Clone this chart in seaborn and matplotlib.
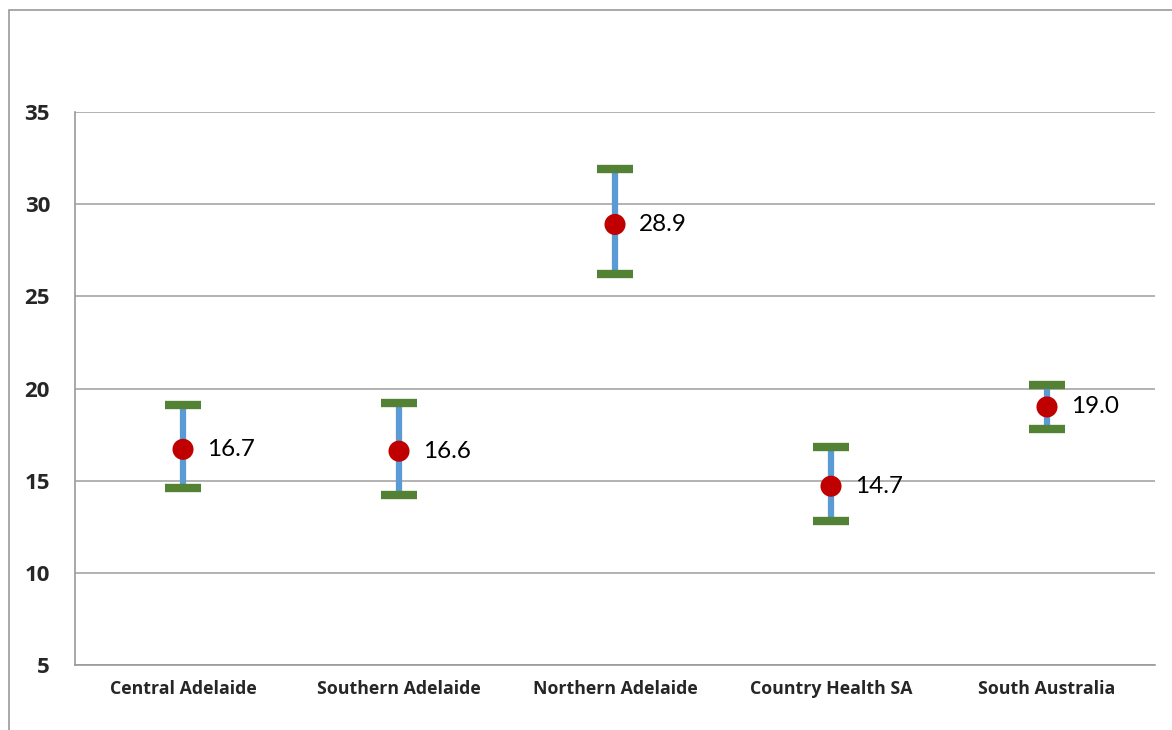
import numpy as np
import matplotlib.pyplot as plt
import seaborn as sns
from matplotlib.patches import Rectangle

regions = ["Central Adelaide", "Southern Adelaide", "Northern Adelaide",
           "Country Health SA", "South Australia"]
rate = [16.7, 16.6, 28.9, 14.7, 19.0]
lower = [14.6, 14.2, 26.2, 12.8, 17.8]
upper = [19.1, 19.2, 31.9, 16.8, 20.2]

sns.set_style("white")
plt.rcParams["font.family"] = ["Lato", "DejaVu Sans"]

fig = plt.figure(figsize=(11.72, 7.30), dpi=100)
ax = fig.add_axes([0.064, 0.089, 0.9215, 0.7576])

x = np.arange(len(regions))
rate_a = np.array(rate)
err = [rate_a - np.array(lower), np.array(upper) - rate_a]

_, caps, bars = ax.errorbar(x, rate_a, yerr=err, fmt="none", ecolor="#5B9BD5",
                            elinewidth=4.5, capsize=13, zorder=3)
for c in caps:
    c.set_markeredgecolor("#548235")
    c.set_markerfacecolor("#548235")
    c.set_markeredgewidth(6)
    c.set_markersize(26)
    c.set_zorder(4)

sns.scatterplot(x=x, y=rate_a, color="#C00000", s=230, edgecolor="none",
                zorder=5, ax=ax, legend=False)

for xi, v in zip(x, rate):
    ax.annotate(f"{v:.1f}", (xi, v), xytext=(17, 0), textcoords="offset points",
                va="center", ha="left", fontsize=17.5, color="black")

tick_font = ["Open Sans", "DejaVu Sans"]
ax.set_xlim(-0.5, len(regions) - 0.5)
ax.set_ylim(5, 35)
ax.set_yticks([5, 10, 15, 20, 25, 30, 35])
ax.set_xticks(x)
ax.set_xticklabels(regions, fontsize=12.8, fontweight="bold", family=tick_font)
ax.set_xticks(np.arange(-0.5, len(regions)), minor=True)
ax.tick_params(axis="x", which="major", length=0, pad=11)
ax.tick_params(axis="x", which="minor", length=6, color="#999999", direction="out")
ax.tick_params(axis="y", length=7, color="#999999", direction="out", pad=11)
for lab in ax.get_yticklabels():
    lab.set_fontweight("bold")
    lab.set_family(tick_font)
    lab.set_fontsize(16)

ax.yaxis.grid(True, color="#A6A6A6", linewidth=1.2)
ax.set_axisbelow(True)
for s in ["top", "right"]:
    ax.spines[s].set_visible(False)
for s in ["left", "bottom"]:
    ax.spines[s].set_color("#999999")
    ax.spines[s].set_linewidth(1.2)

fig.patches.append(Rectangle((9 / 1172, -0.1), 1.2, (730 - 10) / 730 + 0.1,
                             transform=fig.transFigure, fill=False,
                             edgecolor="#999999", linewidth=1.2))

fig.savefig("out.png", dpi=100)
